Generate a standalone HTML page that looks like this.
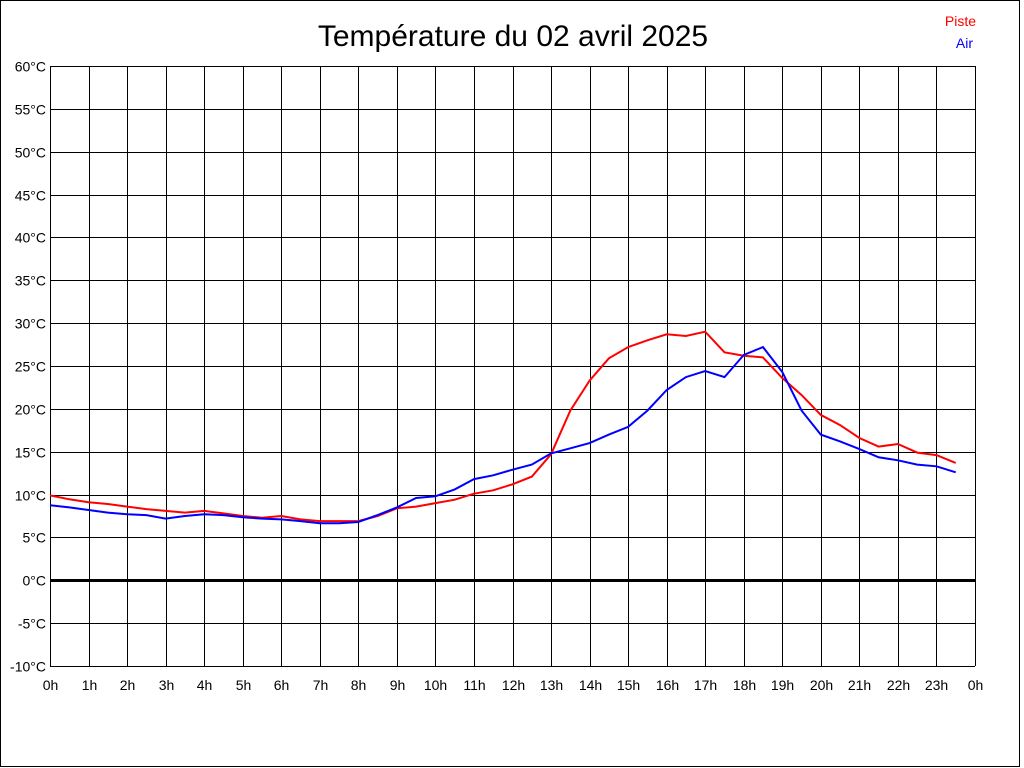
<!DOCTYPE html>
<html><head><meta charset="utf-8"><style>
html,body{margin:0;padding:0;background:#fff;}
svg{display:block;font-family:"Liberation Sans",sans-serif;}
</style></head><body>
<svg id="chart" width="1024" height="768">
<rect x="0.5" y="0.5" width="1019" height="766" fill="#fff" stroke="#000"/>
<text x="513" y="46" font-size="30" text-anchor="middle">Température du 02 avril 2025</text>
<text x="976" y="26" font-size="14" fill="#f00" text-anchor="end">Piste</text>
<text x="973" y="48" font-size="14" fill="#00f" text-anchor="end">Air</text>
<g id="grid"></g><g id="series"></g>
</svg>
<script>
const hours=[0,0.5,1,1.5,2,2.5,3,3.5,4,4.5,5,5.5,6,6.5,7,7.5,8,8.5,9,9.5,10,10.5,11,11.5,12,12.5,13,13.5,14,14.5,15,15.5,16,16.5,17,17.5,18,18.5,19,19.5,20,20.5,21,21.5,22,22.5,23,23.5];
const piste=[9.9,9.45,9.1,8.9,8.6,8.3,8.1,7.9,8.1,7.8,7.5,7.3,7.5,7.1,6.9,6.9,6.9,7.5,8.4,8.6,9.0,9.4,10.1,10.5,11.2,12.1,14.7,19.8,23.3,25.9,27.2,28.0,28.7,28.5,29.0,26.6,26.2,26.0,23.6,21.6,19.3,18.1,16.6,15.6,15.9,14.9,14.6,13.7];
const air=[8.75,8.5,8.2,7.9,7.7,7.6,7.2,7.5,7.7,7.6,7.35,7.2,7.1,6.9,6.65,6.65,6.8,7.6,8.5,9.6,9.8,10.6,11.8,12.25,12.9,13.5,14.8,15.4,16.0,17.0,17.9,19.8,22.2,23.7,24.4,23.7,26.3,27.2,24.3,19.8,17.0,16.2,15.3,14.35,14.0,13.5,13.3,12.6];
const yTicks=[-10,-5,0,5,10,15,20,25,30,35,40,45,50,55,60];
const xTicks=[0,1,2,3,4,5,6,7,8,9,10,11,12,13,14,15,16,17,18,19,20,21,22,23,24];
const X0=50,X1=975,Y0=666,Y1=66;
const xs=h=>X0+(h/24)*(X1-X0);
const ys=v=>Y0-(v+10)/70*(Y0-Y1);
const NS="http://www.w3.org/2000/svg";
const grid=document.getElementById('grid'),ser=document.getElementById('series');
function mk(tag,attrs,parent){const e=document.createElementNS(NS,tag);for(const k in attrs)e.setAttribute(k,attrs[k]);parent.appendChild(e);return e;}
yTicks.forEach(v=>{
 const y=Math.round(ys(v))+0.5;
 const l=mk('line',{x1:X0,x2:X1,y1:y,y2:y,stroke:'#000','stroke-width':v===0?3:1},grid);
 
 
 const t=mk('text',{x:46,y:y+5,'font-size':14,'text-anchor':'end'},grid);
 t.textContent=v+'°C';
 
 
});
xTicks.forEach(h=>{
 const x=Math.round(xs(h))+0.5;
 const l=mk('line',{x1:x,x2:x,y1:Y1,y2:Y0,stroke:'#000','stroke-width':1},grid);
 
 
 const t=mk('text',{x:x,y:690,'font-size':14,'text-anchor':'middle'},grid);
 t.textContent=(h%24)+'h';
 
 
});
function line(vals,color,name){
 const pts=vals.map((v,i)=>xs(hours[i]).toFixed(1)+','+ys(v).toFixed(1)).join(' ');
 const p=mk('polyline',{points:pts,fill:'none',stroke:color,'stroke-width':2},ser);
 
 
}
line(piste,'#f00','piste-line');
line(air,'#00f','air-line');
</script>
</body></html>
